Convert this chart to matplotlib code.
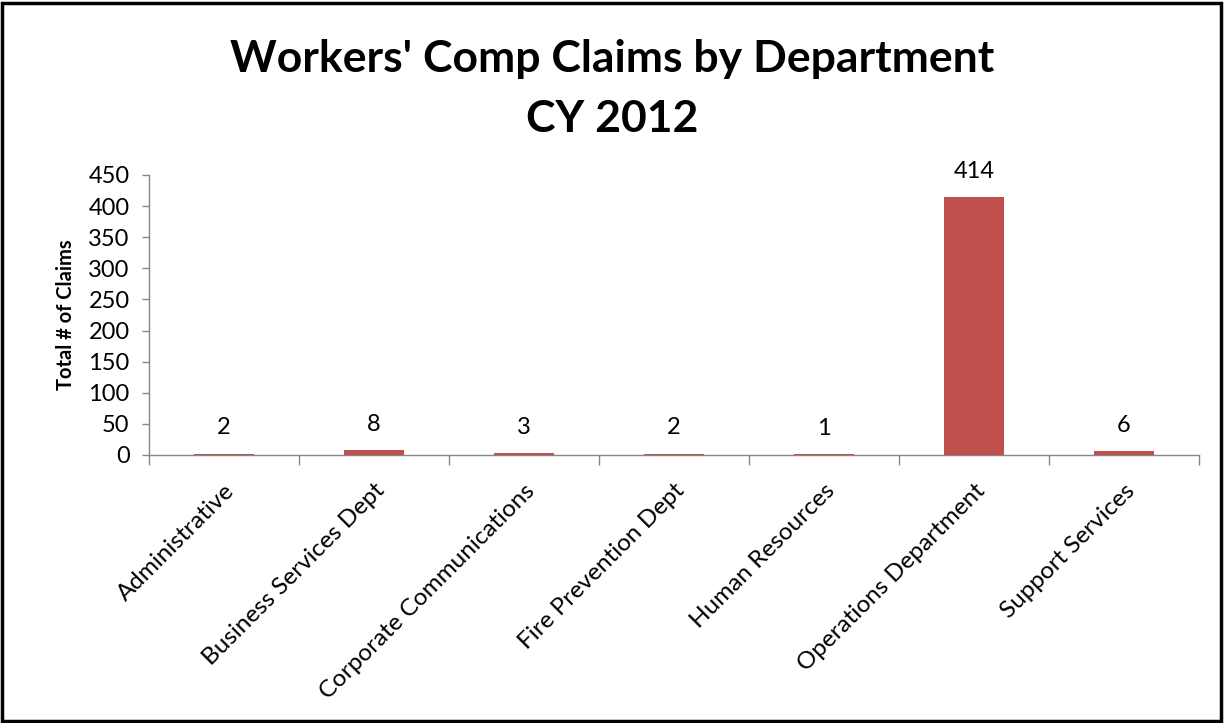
import matplotlib
matplotlib.use('Agg')
import matplotlib.pyplot as plt
from matplotlib.patches import Rectangle
import numpy as np

departments = ['Administrative', 'Business Services Dept', 'Corporate Communications',
               'Fire Prevention Dept', 'Human Resources', 'Operations Department',
               'Support Services']
claims = [2, 8, 3, 2, 1, 414, 6]
y_ticks = [0, 50, 100, 150, 200, 250, 300, 350, 400, 450]

plt.rcParams['font.family'] = ['Lato', 'DejaVu Sans']

fig = plt.figure(figsize=(12.25, 7.23), dpi=100, facecolor='white')
ax = fig.add_axes([0.1216, 0.3707, 0.8572, 0.3873])

x = np.arange(len(departments))
ax.bar(x, claims, width=0.4, color='#C0504D', zorder=3)
for xi, v in zip(x, claims):
    ax.annotate(str(v), (xi, v), xytext=(0, 11), textcoords='offset points',
                ha='center', va='bottom', fontsize=17, color='black')

ax.set_xlim(-0.5, len(departments) - 0.5)
ax.set_ylim(0, 450)
ax.set_yticks(y_ticks)
ax.tick_params(axis='y', labelsize=17, length=5, color='#868686', width=1, pad=9)

ax.set_xticks(x)
ax.set_xticklabels(departments, rotation=45, ha='right', rotation_mode='anchor',
                   fontsize=17.5)
ax.tick_params(axis='x', which='major', length=0, pad=18)
ax.set_xticks(np.arange(-0.5, len(departments), 1), minor=True)
ax.tick_params(axis='x', which='minor', length=7, color='#868686', width=1)

for s in ['top', 'right']:
    ax.spines[s].set_visible(False)
for s in ['left', 'bottom']:
    ax.spines[s].set_color('#868686')
    ax.spines[s].set_linewidth(1)

ax.set_ylabel('Total # of Claims', fontsize=14.5, fontweight='bold', labelpad=9)

fig.text(0.5, 0.877, "Workers' Comp Claims by Department\nCY 2012", ha='center',
         va='center', fontsize=32, fontweight='bold', linespacing=1.6)

fig.patches.append(Rectangle((0.002, 0.003), 0.995, 0.993, transform=fig.transFigure,
                             fill=False, edgecolor='black', linewidth=2.5))

fig.savefig('out.png', dpi=100, facecolor='white')
